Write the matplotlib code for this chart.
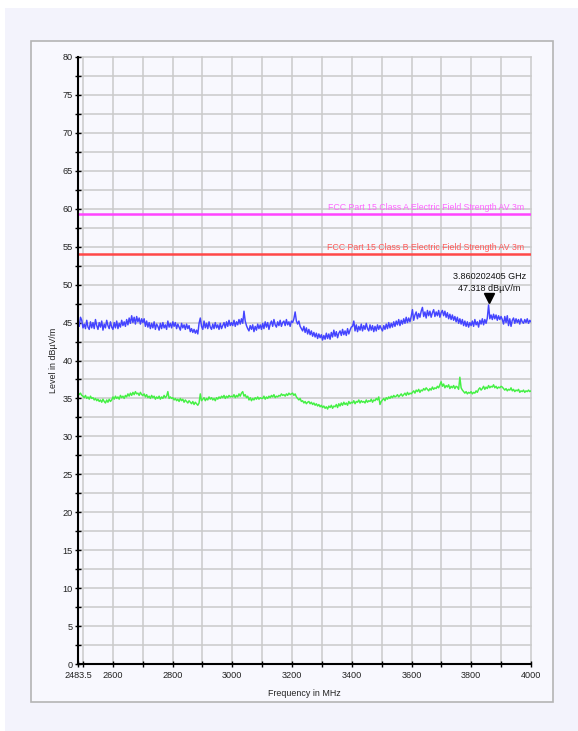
import numpy as np
import matplotlib
matplotlib.use("Agg")
import matplotlib.pyplot as plt
from matplotlib.patches import Rectangle

plt.rcParams['font.family'] = ['Liberation Sans', 'DejaVu Sans']

# Sweep range (MHz)
f_start, f_stop = 2483.5, 4000.0

# Peak trace (dBuV/m), one row per 100 MHz after the first few points
blue_level = [
    45.0, 44.5, 45.7, 45.3,
    44.3, 44.8, 44.2, 45.3, 44.4, 44.1, 45.1, 44.3, 45.0, 44.2, 45.4, 44.6, 44.1, 45.0, 44.4, 45.2, 44.0, 44.8, 44.3, 45.3, 44.6, 44.2, 45.1, 44.4,
    44.1, 45.0, 44.3, 45.2, 44.2, 44.9, 44.4, 45.3, 44.6, 45.1, 44.5, 45.4, 44.7, 45.6, 44.9, 45.9, 45.0, 45.7, 44.8, 45.8, 45.1, 45.6, 44.8, 45.5,
    45.0, 45.5, 44.5, 45.2, 44.4, 45.0, 44.2, 44.9, 44.3, 45.1, 44.1, 44.8, 44.5, 44.0, 44.9, 44.2, 45.0, 44.3, 44.7, 44.1, 45.2, 44.4, 44.9, 44.3,
    45.1, 44.5, 45.0, 44.2, 44.8, 44.4, 44.0, 44.9, 44.3, 44.7, 44.1, 44.8, 44.2, 44.6, 43.8, 44.2, 43.7, 44.1, 43.6, 44.0, 43.5, 44.9, 45.6, 44.5,
    44.1, 45.2, 44.3, 44.9, 44.2, 45.1, 44.4, 44.1, 44.8, 44.2, 45.0, 44.3, 44.7, 44.1, 44.9, 44.2, 44.6, 45.0, 44.3, 45.1, 44.5, 45.3, 44.6, 45.0,
    44.6, 45.3, 44.5, 45.1, 44.7, 45.4, 44.8, 45.5, 44.9, 46.5, 45.2, 44.6, 44.2, 43.9, 44.6, 44.1, 44.7, 43.8, 44.5, 44.0, 44.8, 44.2, 44.7, 44.1,
    44.9, 44.2, 45.1, 44.4, 45.0, 44.1, 44.8, 45.2, 44.5, 45.4, 44.7, 44.4, 45.1, 44.6, 45.3, 44.5, 45.0, 45.2, 44.6, 45.4, 44.7, 45.1, 44.5, 45.2,
    45.0, 45.5, 46.4, 45.2, 44.8, 45.2, 44.5, 44.2, 43.9, 44.5, 43.7, 44.3, 43.5, 44.1, 43.4, 43.9, 43.2, 43.7, 43.1, 43.6, 42.9, 43.5, 43.0, 43.4,
    42.7, 43.3, 42.8, 43.6, 42.9, 43.5, 42.8, 43.7, 43.1, 44.0, 43.2, 43.8, 43.0, 43.6, 43.9, 43.3, 44.1, 43.4, 43.9, 43.3, 44.2, 43.5, 44.0, 44.4,
    44.5, 45.2, 43.9, 44.7, 43.8, 44.5, 44.0, 44.8, 43.9, 44.6, 44.1, 44.9, 44.2, 43.9, 44.7, 44.0, 44.6, 43.8, 44.5, 43.9, 44.7, 44.1, 44.6, 44.2,
    43.9, 44.6, 44.1, 44.8, 44.2, 45.0, 44.3, 44.9, 44.4, 45.1, 44.5, 45.2, 44.7, 45.4, 44.6, 45.3, 44.8, 45.5, 44.9, 45.7, 45.0, 45.6, 45.1, 45.8,
    46.7, 45.3, 46.0, 46.4, 45.5, 46.2, 45.7, 46.5, 47.0, 45.8, 46.4, 45.6, 46.6, 45.9, 46.5, 45.7, 46.3, 46.7, 45.8, 46.4, 45.9, 46.6, 45.7, 46.3,
    46.6, 45.9, 46.5, 45.7, 46.3, 45.5, 46.1, 45.4, 46.0, 45.3, 45.8, 45.1, 45.7, 44.9, 45.5, 44.8, 45.4, 44.6, 45.2, 44.5, 45.1, 44.4, 45.0, 44.6,
    45.2, 44.5, 45.4, 44.7, 45.1, 44.4, 45.3, 44.8, 45.5, 44.7, 45.4, 44.9, 45.6, 47.318, 45.5, 46.0, 45.4, 46.1, 45.5, 46.0, 45.3, 45.9, 45.4, 45.8,
    45.4, 44.8, 45.8, 45.0, 45.9, 44.6, 45.5, 44.5, 45.3, 45.6, 44.9, 45.5, 45.0, 45.4, 44.8, 45.5, 45.1, 44.9, 45.4, 45.0, 45.5, 44.9, 45.3, 45.1,
]

# Average trace (dBuV/m)
green_level = [
    35.8, 35.5, 35.7, 35.4,
    35.3, 35.1, 35.4, 35.0, 35.2, 34.9, 35.3, 35.0, 35.1, 34.8, 35.0, 34.7, 34.9, 34.6, 34.8, 34.5, 34.9, 34.6, 34.4, 34.8, 34.5, 34.9, 34.6, 34.8,
    35.2, 34.9, 35.3, 35.0, 35.2, 34.9, 35.4, 35.1, 35.3, 35.0, 35.4, 35.2, 35.6, 35.3, 35.7, 35.4, 35.8, 35.5, 35.9, 35.6, 35.7, 35.4, 35.8, 35.5,
    35.4, 35.6, 35.2, 35.5, 35.1, 35.3, 35.0, 35.4, 35.1, 35.3, 34.9, 35.2, 35.0, 35.3, 34.9, 35.2, 35.0, 35.4, 35.1, 35.3, 35.9, 35.0, 35.2, 35.0,
    35.1, 34.8, 35.0, 34.7, 34.9, 34.6, 35.0, 34.7, 34.9, 34.5, 34.8, 34.6, 34.4, 34.7, 34.5, 34.3, 34.6, 34.2, 34.5, 34.3, 34.1, 34.4, 35.6, 34.7,
    34.9, 35.1, 34.7, 35.0, 34.8, 35.2, 34.9, 35.1, 34.8, 35.0, 34.7, 35.1, 34.9, 35.2, 35.0, 35.3, 35.1, 35.4, 35.0, 35.3, 35.1, 35.4, 35.2, 35.3,
    35.2, 35.5, 35.1, 35.4, 35.2, 35.6, 35.3, 35.7, 35.9, 35.3, 35.5, 35.1, 35.3, 34.8, 35.1, 34.7, 35.0, 34.8, 35.1, 34.9, 35.2, 34.9, 35.1, 35.0,
    35.0, 35.3, 34.9, 35.2, 35.0, 35.3, 35.1, 35.4, 35.2, 35.5, 35.1, 35.3, 35.2, 35.4, 35.3, 35.6, 35.4, 35.5, 35.3, 35.6, 35.4, 35.7, 35.5, 35.6,
    35.7, 35.4, 35.6, 35.2, 35.0, 34.8, 35.0, 34.6, 34.7, 34.4, 34.6, 34.3, 34.5, 34.6, 34.3, 34.5, 34.2, 34.4, 34.1, 34.3, 34.0, 34.2, 33.9, 34.1,
    33.8, 34.0, 33.7, 33.9, 33.6, 34.0, 33.8, 34.1, 33.7, 34.0, 33.9, 34.2, 33.8, 34.3, 34.0, 34.4, 34.1, 34.5, 34.2, 34.4, 34.1, 34.6, 34.3, 34.5,
    34.4, 34.7, 34.3, 34.6, 34.5, 34.8, 34.4, 34.7, 34.5, 34.6, 34.4, 34.8, 34.5, 34.7, 34.6, 34.9, 34.5, 34.8, 34.7, 35.0, 34.8, 35.2, 34.2, 34.6,
    34.8, 35.0, 34.7, 35.1, 34.9, 35.2, 35.0, 35.3, 35.1, 35.4, 35.2, 35.3, 35.5, 35.2, 35.4, 35.6, 35.3, 35.5, 35.7, 35.4, 35.8, 35.5, 35.7, 35.6,
    35.8, 36.0, 35.7, 36.1, 35.9, 36.2, 35.8, 36.1, 36.0, 36.3, 36.1, 36.4, 36.2, 36.0, 36.3, 36.1, 36.5, 36.2, 36.4, 36.3, 36.6, 36.4, 36.8, 37.2,
    36.6, 36.9, 36.4, 36.7, 36.5, 36.8, 36.3, 36.6, 36.4, 36.7, 36.3, 36.6, 36.5, 36.2, 37.8, 36.4, 36.1, 35.9, 35.7, 35.9, 35.6, 35.8, 35.7, 35.9,
    35.6, 35.8, 35.7, 36.0, 35.8, 36.2, 36.4, 36.1, 36.3, 36.6, 36.2, 36.5, 36.3, 36.7, 36.4, 36.6, 36.5, 36.8, 36.4, 36.6, 36.3, 36.5, 36.4, 36.6,
    36.5, 36.3, 36.1, 36.3, 36.0, 36.2, 36.1, 36.4, 36.0, 36.2, 35.9, 36.1, 36.0, 36.2, 35.8, 36.0, 35.9, 36.1, 35.8, 36.0, 35.9, 36.1, 35.9, 36.0,
]

# Limit lines
limit_names = ["FCC Part 15 Class A Electric Field Strength AV 3m",
               "FCC Part 15 Class B Electric Field Strength AV 3m"]
limit_levels = [59.3, 54.0]
limit_line_colors = ["#ff44ff", "#ff4848"]
limit_text_colors = ["#ff66ff", "#ff5a5a"]

# Marker
marker_freq = 3860.202405
marker_level = 47.318

freq_blue = np.linspace(f_start, f_stop, len(blue_level))
freq_green = np.linspace(f_start, f_stop, len(green_level))

fig = plt.figure(figsize=(5.78, 7.31), dpi=100)
fig.patch.set_facecolor("white")

W, H = 578.0, 731.0
# outer tinted area and the chart panel
fig.patches.append(Rectangle((5 / W, 0.0), 1 - 5 / W, 1 - 8 / H,
                             transform=fig.transFigure, facecolor="#f3f3fc",
                             edgecolor="none", zorder=0))
fig.patches.append(Rectangle((31 / W, 1 - 702 / H), (553 - 31) / W, (702 - 41) / H,
                             transform=fig.transFigure, facecolor="#f8f8fe",
                             edgecolor="#b4b4b4", linewidth=1.2, zorder=1))

ax = fig.add_axes([78 / W, 1 - 664 / H, (531 - 78) / W, (664 - 57) / H])
ax.set_facecolor("#f8f8fe")
ax.set_zorder(2)

ax.set_xlim(f_start, f_stop)
ax.set_ylim(0, 80)

grid_kw = dict(color="#cacaca", linewidth=1.1, zorder=0)
for gx in np.arange(2500, 4001, 100):
    ax.axvline(gx, clip_on=False, **grid_kw)
for gy in np.arange(0, 80.1, 2.5):
    ax.axhline(gy, clip_on=False, **grid_kw)

ax.plot(freq_green, green_level, color="#44f044", linewidth=1.05, zorder=3)
ax.plot(freq_blue, blue_level, color="#4444ff", linewidth=1.05, zorder=4)

for name, lvl, lc, tc in zip(limit_names, limit_levels, limit_line_colors, limit_text_colors):
    ax.axhline(lvl, color=lc, linewidth=1.8, zorder=5)
    ax.text(3977, lvl + 0.25, name, color=tc, fontsize=6.3, ha="right", va="bottom", zorder=6)

ax.plot([marker_freq], [marker_level + 0.9], marker="v", color="black",
        markersize=7, linestyle="none", zorder=7)
ax.text(marker_freq, marker_level + 3.8, f"{marker_freq / 1000:.9f} GHz",
        fontsize=6.5, ha="center", va="center", color="#111111")
ax.text(marker_freq, marker_level + 2.2, f"{marker_level:.3f} dBµV/m",
        fontsize=6.5, ha="center", va="center", color="#111111")

# axes frame
for side in ("top", "right"):
    ax.spines[side].set_visible(False)
for side in ("left", "bottom"):
    ax.spines[side].set_color("black")
    ax.spines[side].set_linewidth(1.5)
    ax.spines[side].set_zorder(8)

xt = [2483.5] + list(range(2500, 4001, 100))
xl = ["2483.5"] + [str(v) if v % 200 == 0 and v != 2500 else "" for v in range(2500, 4001, 100)]
ax.set_xticks(xt)
ax.set_xticklabels(xl)
ax.set_yticks(np.arange(0, 81, 5))
ax.set_yticks(np.arange(2.5, 80, 5), minor=True)
ax.tick_params(axis="both", which="both", direction="inout", length=5, width=1.0,
               colors="black", labelsize=6.6, labelcolor="#222222")
ax.tick_params(axis="y", pad=1.5)
ax.tick_params(axis="x", pad=2.5)

ax.set_xlabel("Frequency in MHz", fontsize=6.4, labelpad=6.5, color="#222222")
ax.set_ylabel("Level in dBµV/m", fontsize=6.4, labelpad=3, color="#222222")

fig.savefig("out.png", dpi=100, facecolor=fig.get_facecolor())
